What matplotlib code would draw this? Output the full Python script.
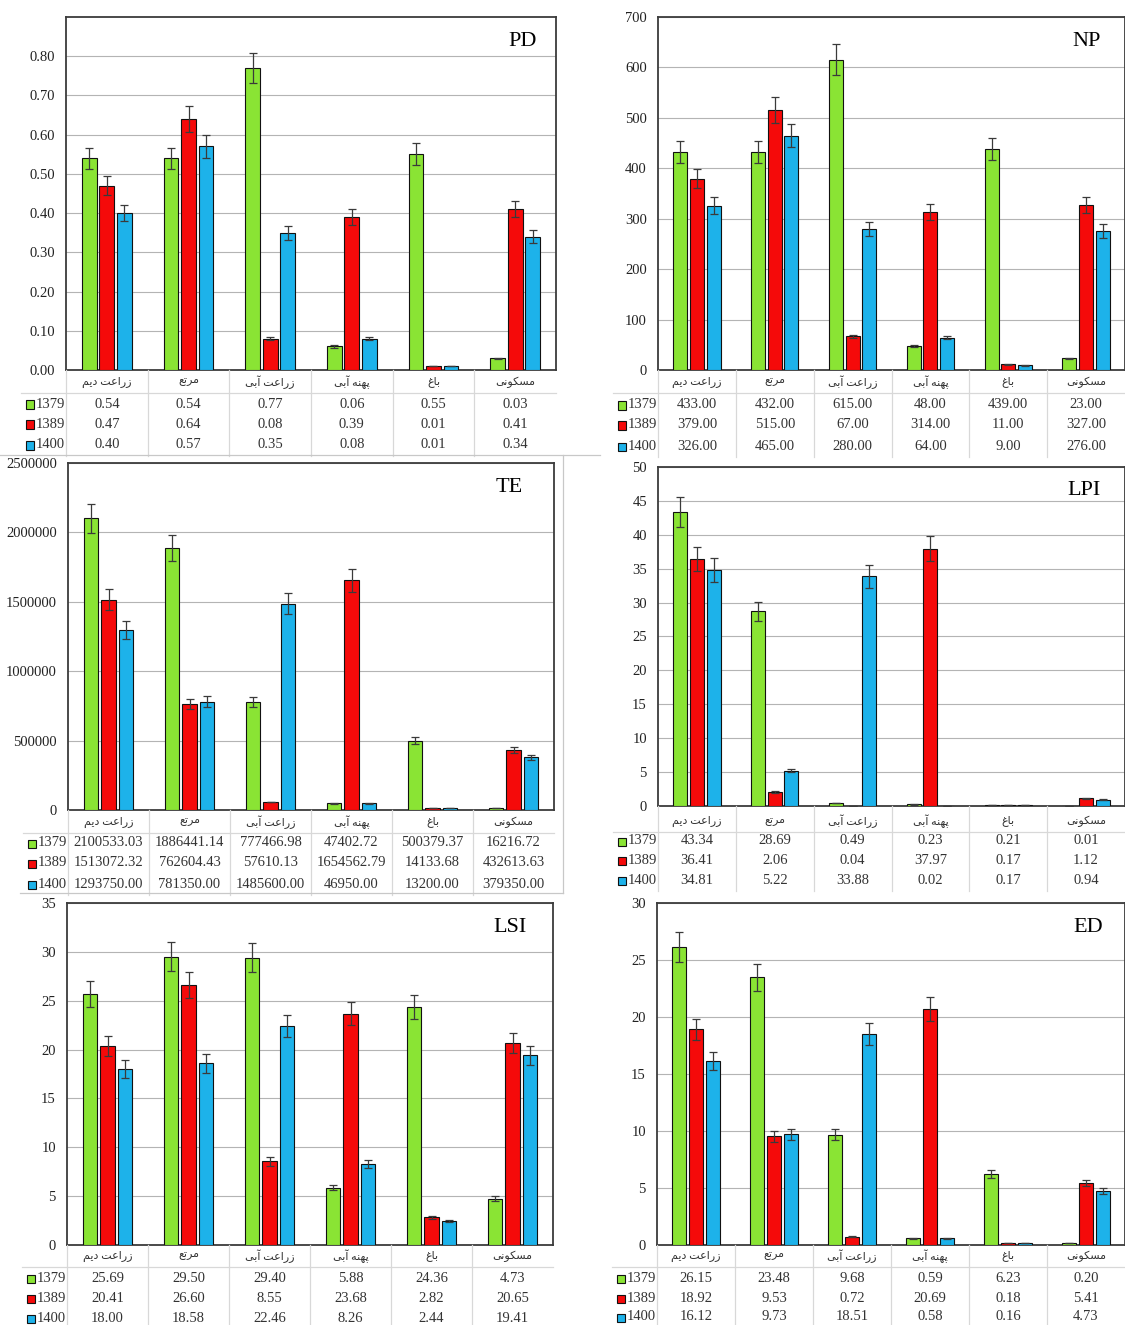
import matplotlib
matplotlib.use('Agg')
import matplotlib.pyplot as plt
import numpy as np
from matplotlib.patches import Rectangle
from matplotlib.lines import Line2D

plt.rcParams['font.family'] = ['Liberation Serif', 'DejaVu Sans']

# categories / years
categories = ['زراعت دیم', 'مرتع', 'زراعت آبی', 'پهنه آبی', 'باغ', 'مسکونی']
years = ['1379', '1389', '1400']

pd_1379 = [0.54, 0.54, 0.77, 0.06, 0.55, 0.03]
pd_1389 = [0.47, 0.64, 0.08, 0.39, 0.01, 0.41]
pd_1400 = [0.40, 0.57, 0.35, 0.08, 0.01, 0.34]

np_1379 = [433.00, 432.00, 615.00, 48.00, 439.00, 23.00]
np_1389 = [379.00, 515.00, 67.00, 314.00, 11.00, 327.00]
np_1400 = [326.00, 465.00, 280.00, 64.00, 9.00, 276.00]

te_1379 = [2100533.03, 1886441.14, 777466.98, 47402.72, 500379.37, 16216.72]
te_1389 = [1513072.32, 762604.43, 57610.13, 1654562.79, 14133.68, 432613.63]
te_1400 = [1293750.00, 781350.00, 1485600.00, 46950.00, 13200.00, 379350.00]

lpi_1379 = [43.34, 28.69, 0.49, 0.23, 0.21, 0.01]
lpi_1389 = [36.41, 2.06, 0.04, 37.97, 0.17, 1.12]
lpi_1400 = [34.81, 5.22, 33.88, 0.02, 0.17, 0.94]

lsi_1379 = [25.69, 29.50, 29.40, 5.88, 24.36, 4.73]
lsi_1389 = [20.41, 26.60, 8.55, 23.68, 2.82, 20.65]
lsi_1400 = [18.00, 18.58, 22.46, 8.26, 2.44, 19.41]

ed_1379 = [26.15, 23.48, 9.68, 0.59, 6.23, 0.20]
ed_1389 = [18.92, 9.53, 0.72, 20.69, 0.18, 5.41]
ed_1400 = [16.12, 9.73, 18.51, 0.58, 0.16, 4.73]

colors = ['#8AE434', '#F50A0A', '#1DB2EA']
err_pct = 0.05  # excel percentage error bars

# persian letters -> presentation forms (iso, fin, ini, med)
FORMS = {
    'ا': ('\uFE8D', '\uFE8E', None, None),
    'آ': ('\uFE81', '\uFE82', None, None),
    'ب': ('\uFE8F', '\uFE90', '\uFE91', '\uFE92'),
    'پ': ('\uFB56', '\uFB57', '\uFB58', '\uFB59'),
    'ت': ('\uFE95', '\uFE96', '\uFE97', '\uFE98'),
    'د': ('\uFEA9', '\uFEAA', None, None),
    'ر': ('\uFEAD', '\uFEAE', None, None),
    'ز': ('\uFEAF', '\uFEB0', None, None),
    'س': ('\uFEB1', '\uFEB2', '\uFEB3', '\uFEB4'),
    'ع': ('\uFEC9', '\uFECA', '\uFECB', '\uFECC'),
    'غ': ('\uFECD', '\uFECE', '\uFECF', '\uFED0'),
    'ک': ('\uFB8E', '\uFB8F', '\uFB90', '\uFB91'),
    'ك': ('\uFED9', '\uFEDA', '\uFEDB', '\uFEDC'),
    'م': ('\uFEE1', '\uFEE2', '\uFEE3', '\uFEE4'),
    'ن': ('\uFEE5', '\uFEE6', '\uFEE7', '\uFEE8'),
    'ه': ('\uFEE9', '\uFEEA', '\uFEEB', '\uFEEC'),
    'و': ('\uFEED', '\uFEEE', None, None),
    'ی': ('\uFBFC', '\uFBFD', '\uFBFE', '\uFBFF'),
    'ي': ('\uFEF1', '\uFEF2', '\uFEF3', '\uFEF4'),
}


def farsi(s):
    out = []
    for i, c in enumerate(s):
        if c not in FORMS:
            out.append(c)
            continue
        prev = s[i - 1] if i > 0 else ''
        nxt = s[i + 1] if i + 1 < len(s) else ''
        pj = prev in FORMS and FORMS[prev][2] is not None
        nj = nxt in FORMS and FORMS[c][2] is not None
        f = FORMS[c]
        if pj and nj:
            out.append(f[3])
        elif pj:
            out.append(f[1])
        elif nj:
            out.append(f[2])
        else:
            out.append(f[0])
    return ''.join(reversed(out))


W, H = 1125, 1325
fig = plt.figure(figsize=(W / 100, H / 100), dpi=100)
offsets = [-0.215, 0, 0.215]
grid_c = '#B4B4B4'
sep_c = '#D8D8D8'


def fline(x0, x1, y0, y1, color=sep_c, lw=0.9):
    fig.add_artist(Line2D([x0 / W, x1 / W], [1 - y0 / H, 1 - y1 / H],
                          transform=fig.transFigure, color=color, lw=lw))


def panel(title, vals, ymax, ytop, step, yfmt, L, R, T, B, tdx, rows):
    ax = fig.add_axes([L / W, 1 - B / H, (R - L) / W, (B - T) / H])
    x = np.arange(len(categories))
    for k, v in enumerate(vals):
        v = np.array(v)
        ax.bar(x + offsets[k], v, width=0.18, color=colors[k], edgecolor='#111111',
               linewidth=0.8, zorder=3, yerr=v * err_pct,
               error_kw=dict(ecolor='#3A3A3A', elinewidth=0.9, capsize=3,
                             capthick=0.9, zorder=4))
    ax.set_xlim(-0.5, 5.5)
    ax.set_ylim(0, ymax)
    ticks = np.arange(0, ytop + step / 2, step)
    ax.set_yticks(ticks)
    ax.set_yticklabels([yfmt % t for t in ticks], fontsize=10.5, color='#222222')
    ax.set_xticks([])
    ax.tick_params(axis='y', length=0, pad=8)
    ax.grid(axis='y', color=grid_c, lw=0.8, zorder=0)
    ax.set_axisbelow(True)
    for sp in ax.spines.values():
        sp.set_color('#3C3C3C')
        sp.set_linewidth(1.3)
    ax.annotate(title, xy=(1, 1), xycoords='axes fraction', xytext=(-tdx, -24),
                textcoords='offset pixels', ha='right', va='center', fontsize=16)

    # data table under the plot
    cw = (R - L) / 6
    hy, r1, r2, r3 = rows
    bottom = B + r3 + 11
    for i, cat in enumerate(categories):
        cx = L + (i + 0.5) * cw
        fig.text(cx / W, 1 - (B + hy) / H, farsi(cat), ha='center', va='center',
                 fontsize=8, color='#333333')
        for k, ry in enumerate([r1, r2, r3]):
            fig.text(cx / W, 1 - (B + ry) / H, '%.2f' % vals[k][i], ha='center',
                     va='center', fontsize=10.5, color='#333333')
    for i in range(0, 6):
        fline(L + i * cw, L + i * cw, B, bottom)
    fline(L - 45, R, B + hy + 11, B + hy + 11)
    for k, ry in enumerate([r1, r2, r3]):
        yy = B + ry
        fig.add_artist(Rectangle(((L - 40) / W, 1 - (yy + 4.5) / H), 8 / W, 8 / H,
                                 transform=fig.transFigure, facecolor=colors[k],
                                 edgecolor='#111111', lw=0.8))
        fig.text((L - 30) / W, 1 - yy / H, years[k], ha='left', va='center',
                 fontsize=10.5, color='#333333')
    return ax


panel('PD', [pd_1379, pd_1389, pd_1400], 0.9, 0.8, 0.1, '%.2f',
      66, 556, 17, 370, 19, (12, 34, 54, 75))
panel('NP', [np_1379, np_1389, np_1400], 700, 700, 100, '%d',
      658, 1125, 17, 370, 24, (12, 35, 55, 76))
panel('TE', [te_1379, te_1389, te_1400], 2500000, 2500000, 500000, '%d',
      68, 554, 463, 810, 31, (12, 33, 53, 74))
panel('LPI', [lpi_1379, lpi_1389, lpi_1400], 50, 50, 5, '%d',
      658, 1125, 467, 806, 24, (15, 35, 54, 74))
panel('LSI', [lsi_1379, lsi_1389, lsi_1400], 35, 35, 5, '%d',
      67, 553, 903, 1245, 26, (11, 33, 53, 73))
panel('ED', [ed_1379, ed_1389, ed_1400], 30, 30, 5, '%d',
      657, 1125, 903, 1245, 22, (11, 33, 53, 72))

# borders of the pasted panel images
fline(0, 600, 455, 455, color='#C8C8C8')
fline(563, 563, 455, 893, color='#C8C8C8')
fline(20, 563, 893, 893, color='#C8C8C8')

fig.savefig('out.png', dpi=100)
